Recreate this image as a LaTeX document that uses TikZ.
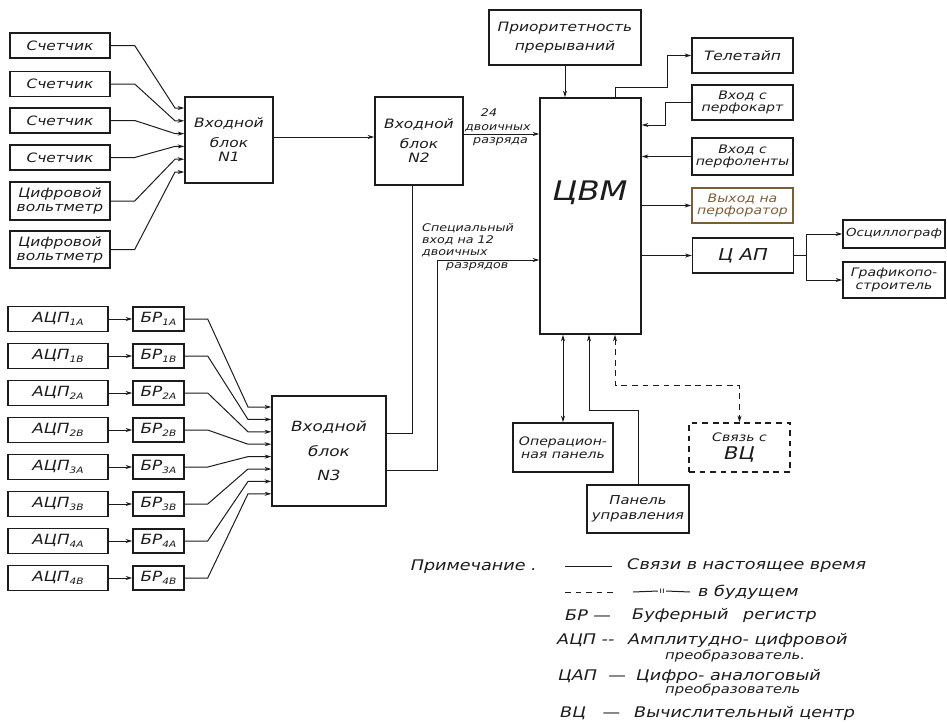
\documentclass[tikz,border=0pt]{standalone}
\usepackage{fontspec}
\setmainfont{DejaVu Sans}[FakeStretch=1.2]
\usepackage{tikz}
\usetikzlibrary{arrows.meta,positioning}
\definecolor{ink}{RGB}{28,28,28}
\definecolor{scanbrown}{RGB}{122,94,60}
\newcommand{\lowidx}[1]{\raisebox{-0.4ex}{\fontsize{7.5}{7.5}\selectfont #1}}

\begin{document}
\begin{tikzpicture}[x=0.03cm, y=-0.03cm,
  unit/.style={draw=ink, line width=1.2pt, text=ink, align=center, inner sep=1pt,
    minimum width=3cm, minimum height=0.75cm, font=\itshape\fontsize{11}{12}\selectfont},
  block/.style={unit, minimum width=2.64cm, minimum height=2.58cm},
  dev/.style={unit, minimum width=3.03cm, minimum height=1.05cm,
    font=\itshape\fontsize{10}{11}\selectfont},
  adc/.style={unit, minimum width=3cm, minimum height=0.74cm,
    font=\itshape\fontsize{12}{12}\selectfont},
  reg/.style={unit, minimum width=1.53cm, minimum height=0.72cm,
    font=\itshape\fontsize{12}{12}\selectfont},
  tag/.style={text=ink, inner sep=0pt, align=left, font=\itshape\fontsize{9}{10}\selectfont},
  note/.style={text=ink, inner sep=0pt, anchor=west, font=\itshape\fontsize{12.5}{13}\selectfont},
  flow/.style={draw=ink, line width=0.85pt, -{Stealth[length=2mm, width=1.2mm]}},
  both/.style={flow, {Stealth[length=2mm, width=1.2mm]}-{Stealth[length=2mm, width=1.2mm]}},
  link/.style={draw=ink, line width=0.85pt},
  future/.style={dash pattern=on 5pt off 4pt}
]
\useasboundingbox (0,0) rectangle (947,723);

% counters and voltmeters
\node[unit] (cnt1) at (60,45.5) {Счетчик};
\node[unit] (cnt2) at (60,84) {Счетчик};
\node[unit] (cnt3) at (60,120.5) {Счетчик};
\node[unit] (cnt4) at (60,157.5) {Счетчик};
\node[unit, minimum height=1.14cm] (vm1) at (60,201) {Цифровой\\вольтметр};
\node[unit, minimum height=1.11cm] (vm2) at (60,249.5) {Цифровой\\вольтметр};

% input blocks
\node[block] (N1) at (229,140) {Входной\\[5pt]блок\\N1};
\node[block, minimum height=2.64cm] (N2) at (419,141) {Входной\\[5pt]блок\\N2};
\node[block, minimum width=3.42cm, minimum height=3.3cm,
  font=\itshape\fontsize{12}{13}\selectfont] (N3) at (329,451) {Входной\\[8pt]блок\\[8pt]N3};

% computer
\node[unit, minimum width=3.03cm, minimum height=7.08cm] (CVM) at (590.5,216) {};
\node[text=ink, font=\itshape\fontsize{23}{23}\selectfont] (CVMname) at (590,193) {ЦВМ};
\node[unit, minimum width=4.56cm, minimum height=1.65cm] (prio) at (565,37.5)
  {Приоритетность\\[4pt]прерываний};

% peripherals
\node[dev, font=\itshape\fontsize{11}{12}\selectfont] (tty) at (742.5,55.5) {Телетайп};
\node[dev] (cardin) at (742.5,102.5) {Вход с\\перфокарт};
\node[dev, minimum height=1.11cm] (tapein) at (742.5,156.5) {Вход с\\перфоленты};
\node[dev, draw=scanbrown, text=scanbrown] (punchout) at (742.5,205.5) {Выход на\\перфоратор};
\node[dev, font=\itshape\fontsize{14}{14}\selectfont] (dac) at (743,255.5) {Ц АП};
\node[dev, minimum width=3.06cm, minimum height=0.84cm,
  font=\itshape\fontsize{9.5}{10}\selectfont] (osc) at (894,234) {Осциллограф};
\node[dev, minimum width=3.06cm, minimum height=1.08cm] (plot) at (894,280) {Графикопо-\\строитель};
\node[dev, minimum width=3cm, minimum height=1.47cm] (oppanel) at (563,447.5) {Операцион-\\ная панель};
\node[dev, minimum width=3.06cm, minimum height=1.44cm,
  font=\itshape\fontsize{10.5}{13}\selectfont] (ctlpanel) at (638,509) {Панель\\управления};
\node[dev, future, minimum height=1.47cm] (vc) at (739.5,447.5)
  {Связь с\\[3pt]{\fontsize{15}{15}\selectfont ВЦ}};

% converters and buffer registers
\foreach \k/\lbl [count=\i from 0] in {1/1А, 2/1В, 3/2А, 4/2В, 5/3А, 6/3В, 7/4А, 8/4В} {
  \pgfmathsetmacro\yrow{319+37*\i}
  \pgfmathsetmacro\yin{407+12.4*\i}
  \node[adc] (adc\k) at (58,\yrow) {АЦП\lowidx{\lbl}};
  \node[reg] (reg\k) at (158.5,\yrow) {БР\lowidx{\lbl}};
  \draw[flow] (adc\k) -- (reg\k);
  \draw[flow] (reg\k.east) -- ++(23,0) -- (248,\yin) -- (N3.west |- 0,\yin);
}

% counters into block 1
\foreach \src [count=\i from 0] in {cnt1,cnt2,cnt3,cnt4,vm1,vm2} {
  \pgfmathsetmacro\yin{108+12.8*\i}
  \draw[flow] (\src.east) -- ++(24,0) -- (175,\yin) -- (N1.west |- 0,\yin);
}

\draw[flow] (N1.east |- 0,137) -- (N2.west |- 0,137);
\draw[flow] (N2.east |- 0,134) -- (CVM.west |- 0,134);
\draw[link] (N3.east |- 0,433) -| ([xshift=-0.21cm]N2.south);
\draw[flow] (N3.east |- 0,470) -- ++(51,0) |- (CVM.west |- 0,260);

\node[tag] (lbl24) at (489,113) {24};
\node[tag, anchor=south west] (lbl24a) at (465,132) {двоичных};
\node[tag, anchor=north west] (lbl24b) at (473,137) {разряда};
\node[tag, anchor=south west] (spec) at (422,257) {Специальный\\вход на 12\\двоичных};
\node[tag, anchor=north west] (specb) at (446,262) {разрядов};

% around the computer
\draw[flow] (prio.south) -- (prio.south |- CVM.north);
\draw[flow] (CVM.north -| 615,0) -- ++(0,-10) -- ++(52,0) |- (tty.west);
\draw[flow] (cardin.west) -- ++(-26,0) |- (CVM.east |- 0,125);
\draw[flow] (tapein.west) -- (tapein.west -| CVM.east);
\draw[flow] (punchout.west -| CVM.east) -- (punchout.west);
\draw[flow] (dac.west -| CVM.east) -- (dac.west);
\draw[link] (dac.east) -- ++(12,0) coordinate (fork);
\draw[flow] (fork) |- (osc.west);
\draw[flow] (fork) |- (plot.west);

\draw[both] (oppanel.north |- CVM.south) -- (oppanel.north);
\draw[flow] (ctlpanel.north) |- (589,410) -- (CVM.south -| 589,0);
\draw[both, future] (CVM.south -| 615,0) |- (vc.north |- 0,385) -- (vc.north);

% legend
\node[note, anchor=east] (remark) at (537,567) {Примечание .};
\coordinate (nowA) at (565,566);
\coordinate (nowB) at (612,566);
\draw[link] (nowA) -- (nowB);
\node[note] (nowtxt) at (627,566) {Связи в\ настоящее время};
\coordinate (futA) at (565,592);
\coordinate (futB) at (613,592);
\draw[link, future] (futA) -- (futB);
\node[text=ink, inner sep=1pt, font=\fontsize{7}{7}\selectfont] (ditto) at (662,591) {ıı};
\draw[link] (633,592) -- (ditto.west);
\draw[link] (ditto.east) -- (690,592);
\node[note] (futtxt) at (698,592) {в будущем};

\node[note] (abBR) at (565,615) {БР\ —};
\node[note] (txBR) at (632,615) {Буферный\quad регистр};
\node[note] (abADC) at (557,640) {АЦП\ {-}{-}};
\node[note] (txADC) at (628,640) {Амплитудно- цифровой};
\node[note, font=\itshape\fontsize{10.5}{11}\selectfont] (txADC2) at (665,656) {преобразователь.};
\node[note] (abDAC) at (558,676) {ЦАП\ \ —};
\node[note] (txDAC) at (636,676) {Цифро- аналоговый};
\node[note, font=\itshape\fontsize{10.5}{11}\selectfont] (txDAC2) at (665,690) {преобразователь};
\node[note] (abVC) at (560,713) {ВЦ\ \ \ —};
\node[note] (txVC) at (634,713) {Вычислительный центр};
\end{tikzpicture}
\end{document}
